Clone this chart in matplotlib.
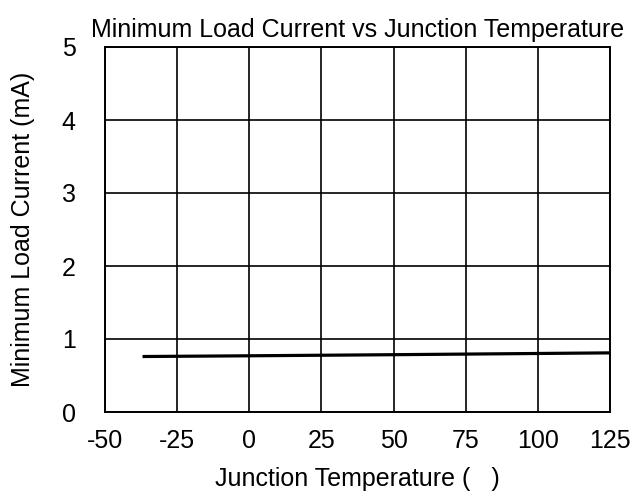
import matplotlib
matplotlib.use("Agg")
import matplotlib.pyplot as plt

temp = [-37, 0, 50, 125]
current = [0.76, 0.77, 0.785, 0.81]
xticks = [-50, -25, 0, 25, 50, 75, 100, 125]
yticks = [0, 1, 2, 3, 4, 5]

plt.rcParams['font.family'] = ['Liberation Sans', 'DejaVu Sans']
plt.rcParams['axes.unicode_minus'] = False

fig = plt.figure(figsize=(6.35, 4.94), dpi=100)
ax = fig.add_axes([105 / 635, 1 - 412 / 494, 505 / 635, 365 / 494])

ax.plot(temp, current, color='black', lw=2.3, solid_capstyle='butt')
ax.set_xlim(-50, 125)
ax.set_ylim(0, 5)
ax.set_xticks(xticks)
ax.set_yticks(yticks)
ax.grid(True, color='black', lw=1.2)
for s in ax.spines.values():
    s.set_linewidth(1.4)
ax.tick_params(length=0, labelsize=18)
ax.tick_params(axis='x', pad=12)
ax.tick_params(axis='y', pad=21)

ax.set_title('Minimum Load Current vs Junction Temperature', fontsize=18, pad=7)
ax.set_xlabel('Junction Temperature (   )', fontsize=18, labelpad=10)
ax.set_ylabel('Minimum Load Current (mA)', fontsize=18, labelpad=19)

fig.savefig('out.png', dpi=100)
